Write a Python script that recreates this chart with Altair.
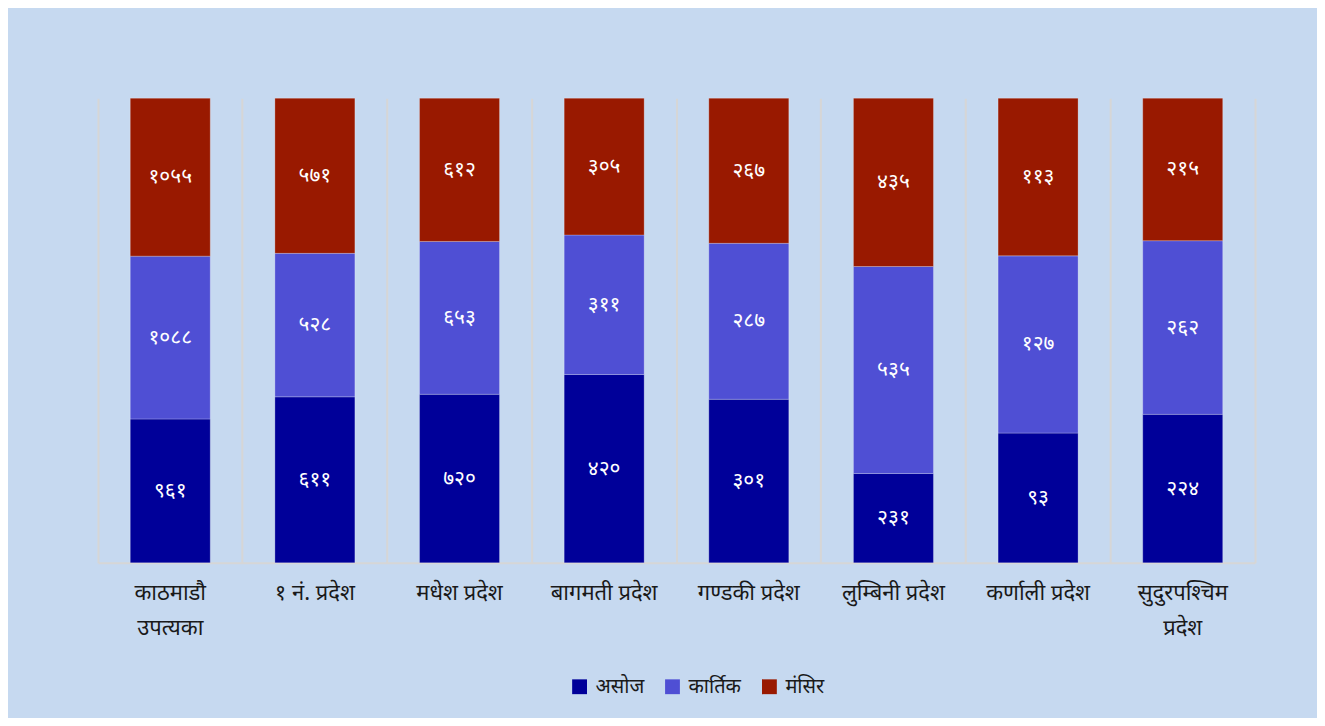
import altair as alt
import pandas as pd

categories = ["काठमाडौ\nउपत्यका", "१ नं. प्रदेश", "मधेश प्रदेश", "बागमती प्रदेश",
              "गण्डकी प्रदेश", "लुम्बिनी प्रदेश", "कर्णाली प्रदेश", "सुदुरपश्चिम\nप्रदेश"]
series = ["असोज", "कार्तिक", "मंसिर"]
asoj = [961, 611, 720, 420, 301, 231, 93, 224]
kartik = [1088, 528, 653, 311, 287, 535, 127, 262]
mangsir = [1055, 571, 612, 305, 267, 435, 113, 215]
colors = ["#000099", "#4f4fd4", "#991900"]

DEV = str.maketrans("0123456789", "०१२३४५६७८९")

rows = []
for s_i, (name, vals) in enumerate(zip(series, [asoj, kartik, mangsir])):
    for c, v in zip(categories, vals):
        rows.append({"cat": c, "series": name, "ord": s_i, "value": v,
                     "label": str(v).translate(DEV)})
df = pd.DataFrame(rows)

FONT = "Noto Sans"

base = alt.Chart(df).transform_stack(
    stack="value", groupby=["cat"], as_=["y0", "y1"], offset="normalize",
    sort=[alt.SortField("ord", order="ascending")]
).transform_calculate(mid="(datum.y0 + datum.y1) / 2")

xenc = alt.X("cat:N", sort=categories, title=None,
             scale=alt.Scale(paddingInner=0, paddingOuter=0),
             axis=alt.Axis(labelAngle=0, labelFontSize=22, labelColor="#1a1a1a",
                           labelFont=FONT, labelPadding=20, labelLimit=0,
                           labelLineHeight=35,
                           labelExpr="split(datum.label, '\\n')",
                           ticks=False, grid=True, bandPosition=0,
                           gridColor="#d6d6d6", gridWidth=2,
                           domainColor="#d6d6d6", domainWidth=2))

yscale = alt.Scale(domain=[0, 1], nice=False)

bars = base.mark_bar(width=alt.RelativeBandSize(0.553), stroke="white",
                     strokeWidth=0.8, strokeOpacity=0.3).encode(
    x=xenc,
    y=alt.Y("y0:Q", scale=yscale, title=None,
            axis=alt.Axis(orient="right", labels=False, ticks=False, grid=False,
                          domainColor="#d6d6d6", domainWidth=2, title=None)),
    y2="y1:Q",
    color=alt.Color("series:N", sort=series,
                    scale=alt.Scale(domain=series, range=colors),
                    legend=alt.Legend(title=None, orient="none", direction="horizontal",
                                      legendX=472, legendY=579,
                                      symbolType="square", symbolSize=220,
                                      symbolStrokeWidth=0, labelFontSize=20,
                                      labelFont=FONT, labelColor="#1a1a1a",
                                      columnPadding=18, labelOffset=6)),
)

text = base.mark_text(color="white", fontSize=21, font=FONT).encode(
    x=alt.X("cat:N", sort=categories),
    y=alt.Y("mid:Q", scale=yscale),
    text="label:N",
)

chart = alt.layer(bars, text).properties(
    width=1158, height=465,
    background="#c6d9f0",
    padding={"left": 90, "top": 90, "right": 62, "bottom": 155},
    autosize=alt.AutoSizeParams(type="none"),
).configure_view(stroke=None)

chart.save("out.html", embed_options={"renderer": "svg", "actions": False})
